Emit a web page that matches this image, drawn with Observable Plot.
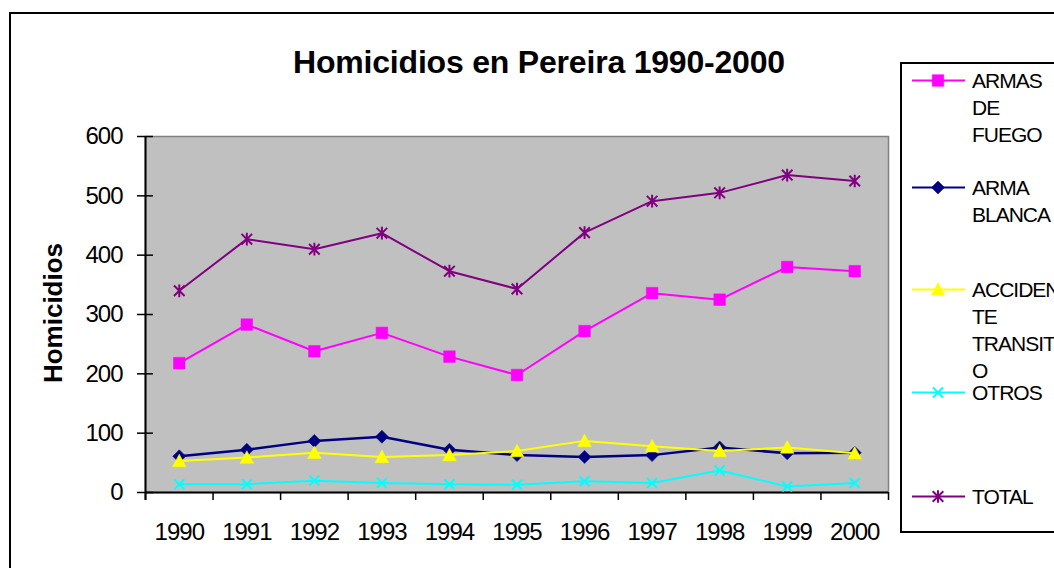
<!DOCTYPE html>
<html><head><meta charset="utf-8">
<script src="https://cdn.jsdelivr.net/npm/d3@7"></script>
<script src="https://cdn.jsdelivr.net/npm/@observablehq/plot@0.6"></script>
<style>
html,body{margin:0;padding:0;background:#fff;overflow:hidden;}
#wrap{position:relative;width:1054px;height:568px;overflow:hidden;font-family:"Liberation Sans",Arial,sans-serif;color:#000;}
#outer{position:absolute;left:9px;top:12px;width:1200px;height:700px;border:2px solid #000;box-sizing:border-box;}
#chart{position:absolute;left:0;top:0;}
#chart svg text{letter-spacing:-1px;}
#title{position:absolute;left:239px;width:600px;top:46px;text-align:center;font-weight:bold;font-size:32px;line-height:32px;letter-spacing:-0.2px;white-space:nowrap;}
#ylabel{position:absolute;left:-97.5px;width:300px;top:300px;height:26px;line-height:26px;font-size:26px;font-weight:bold;text-align:center;transform:rotate(-90deg);}
#legend{position:absolute;left:900px;top:62px;width:300px;height:471px;border:2px solid #000;box-sizing:border-box;}
.entry{position:absolute;left:910px;}
.entry svg{position:absolute;left:0;top:0;}
.entry .txt{position:absolute;left:62px;top:0;font-size:21px;line-height:27px;letter-spacing:-1px;white-space:nowrap;}
</style>
</head><body>
<div id="wrap">
  <div id="outer"></div>
  <div id="chart"></div>
  <div id="title"></div>
  <div id="ylabel"></div>
  <div id="legend"></div>
</div>
<script>
// ---- data ----
const years = [1990, 1991, 1992, 1993, 1994, 1995, 1996, 1997, 1998, 1999, 2000];
const armasFuego = [218, 283, 238, 269, 229, 198, 272, 336, 325, 380, 373];
const armaBlanca = [61, 72, 87, 94, 72, 63, 60, 63, 76, 66, 67];
const accidenteTransito = [53, 59, 67, 60, 63, 70, 87, 78, 70, 76, 66];
const otros = [14, 14, 20, 16, 14, 13, 19, 16, 37, 10, 16];
const total = [340, 427, 410, 437, 373, 343, 438, 491, 505, 535, 525];
const yTicks = [0, 100, 200, 300, 400, 500, 600];
const seriesNames = ["ARMAS DE FUEGO", "ARMA BLANCA", "ACCIDENTE TRANSITO", "OTROS", "TOTAL"];
const legendLines = [["ARMAS", "DE", "FUEGO"], ["ARMA", "BLANCA"], ["ACCIDEN", "TE", "TRANSIT", "O"], ["OTROS"], ["TOTAL"]];
const titleText = "Homicidios en Pereira 1990-2000";
const yLabelText = "Homicidios";

// ---- symbols ----
const rad = size => Math.sqrt(size / Math.PI);
const symSquare = {draw(c, s){ const r = rad(s); c.rect(-r, -r, 2*r, 2*r); }};
const symDiamond = {draw(c, s){ const r = rad(s); c.moveTo(0,-r); c.lineTo(r,0); c.lineTo(0,r); c.lineTo(-r,0); c.closePath(); }};
const symTriangle = {draw(c, s){ const r = rad(s); c.moveTo(0,-r); c.lineTo(r,r*0.85); c.lineTo(-r,r*0.85); c.closePath(); }};
const symTimes = {draw(c, s){ const r = rad(s); c.moveTo(-r,-r); c.lineTo(r,r); c.moveTo(r,-r); c.lineTo(-r,r); }};
const symStar = {draw(c, s){ const r = rad(s); c.moveTo(-r,-r); c.lineTo(r,r); c.moveTo(r,-r); c.lineTo(-r,r); c.moveTo(0,-r*1.2); c.lineTo(0,r*1.2); }};

const valuesList = [armasFuego, armaBlanca, accidenteTransito, otros, total];
const styles = [
  {color: "#FF00FF", sym: symSquare, r: 5.8, filled: true, sw: 2},
  {color: "#000080", sym: symDiamond, r: 6.5, filled: true, sw: 2.5},
  {color: "#FFFF00", sym: symTriangle, r: 6.8, filled: true, sw: 2},
  {color: "#00FFFF", sym: symTimes, r: 5, filled: false, sw: 2},
  {color: "#800080", sym: symStar, r: 5.3, filled: false, sw: 2}
];
const series = seriesNames.map((name, k) => ({name, values: valuesList[k], ...styles[k]}));
const rows = years.flatMap((year, i) => series.map(s => ({year, serie: s.name, value: s.values[i]})));
const bounds = years.map(y => y - 0.5).concat([years[years.length - 1] + 0.5]);

const marks = [
  Plot.frame({fill: "#c0c0c0", stroke: "#808080", strokeWidth: 1.5}),
  Plot.ruleY([0], {stroke: "#000", strokeWidth: 2}),
  Plot.ruleX([bounds[0]], {stroke: "#000", strokeWidth: 2, insetBottom: -8}),
  Plot.axisY(yTicks, {tickSize: 0, tickPadding: 23, fontSize: 24, label: null, tickFormat: d => String(d)}),
  Plot.axisY(yTicks, {tickSize: 16, dx: 8, tickFormat: () => "", label: null, stroke: "#000", strokeWidth: 1.5}),
  Plot.axisX(years, {tickSize: 0, tickPadding: 30, fontSize: 24, label: null, tickFormat: d => String(d)}),
  Plot.axisX(bounds, {tickSize: 8, tickFormat: () => "", label: null, stroke: "#000", strokeWidth: 1.5})
];
for (const s of series) {
  marks.push(Plot.line(rows, {filter: d => d.serie === s.name, x: "year", y: "value", stroke: s.color, strokeWidth: s.sw}));
  marks.push(Plot.dot(rows, {filter: d => d.serie === s.name, x: "year", y: "value", symbol: s.sym, r: s.r,
    fill: s.filled ? s.color : "none", stroke: s.color, strokeWidth: s.filled ? 0.5 : 2}));
}

const chart = Plot.plot({
  width: 1054, height: 568,
  marginLeft: 145, marginRight: 166, marginTop: 136, marginBottom: 76,
  style: {fontFamily: '"Liberation Sans", Arial, sans-serif', fontSize: "24px", color: "#000", background: "transparent", overflow: "visible"},
  x: {type: "linear", domain: [bounds[0], bounds[bounds.length - 1]]},
  y: {domain: [0, 600]},
  marks
});
document.getElementById("chart").appendChild(chart);

document.getElementById("title").textContent = titleText;
document.getElementById("ylabel").textContent = yLabelText;

// ---- legend ----
const legendY = [80, 187, 289, 392, 496];
const wrap = document.getElementById("wrap");
series.forEach((s, k) => {
  const e = document.createElement("div");
  e.className = "entry";
  e.style.top = (legendY[k] - 13.5) + "px";
  const svg = d3.create("svg").attr("width", 58).attr("height", 27);
  svg.append("line").attr("x1", 2).attr("x2", 55).attr("y1", 13.5).attr("y2", 13.5)
    .attr("stroke", s.color).attr("stroke-width", 2);
  svg.append("path").attr("transform", "translate(28,13.5)")
    .attr("d", d3.symbol(s.sym, Math.PI * s.r * s.r)())
    .attr("fill", s.filled ? s.color : "none").attr("stroke", s.color).attr("stroke-width", s.filled ? 0.5 : 2);
  e.appendChild(svg.node());
  const t = document.createElement("div");
  t.className = "txt";
  t.innerHTML = legendLines[k].join("<br>");
  e.appendChild(t);
  wrap.appendChild(e);
});
</script>
</body></html>
